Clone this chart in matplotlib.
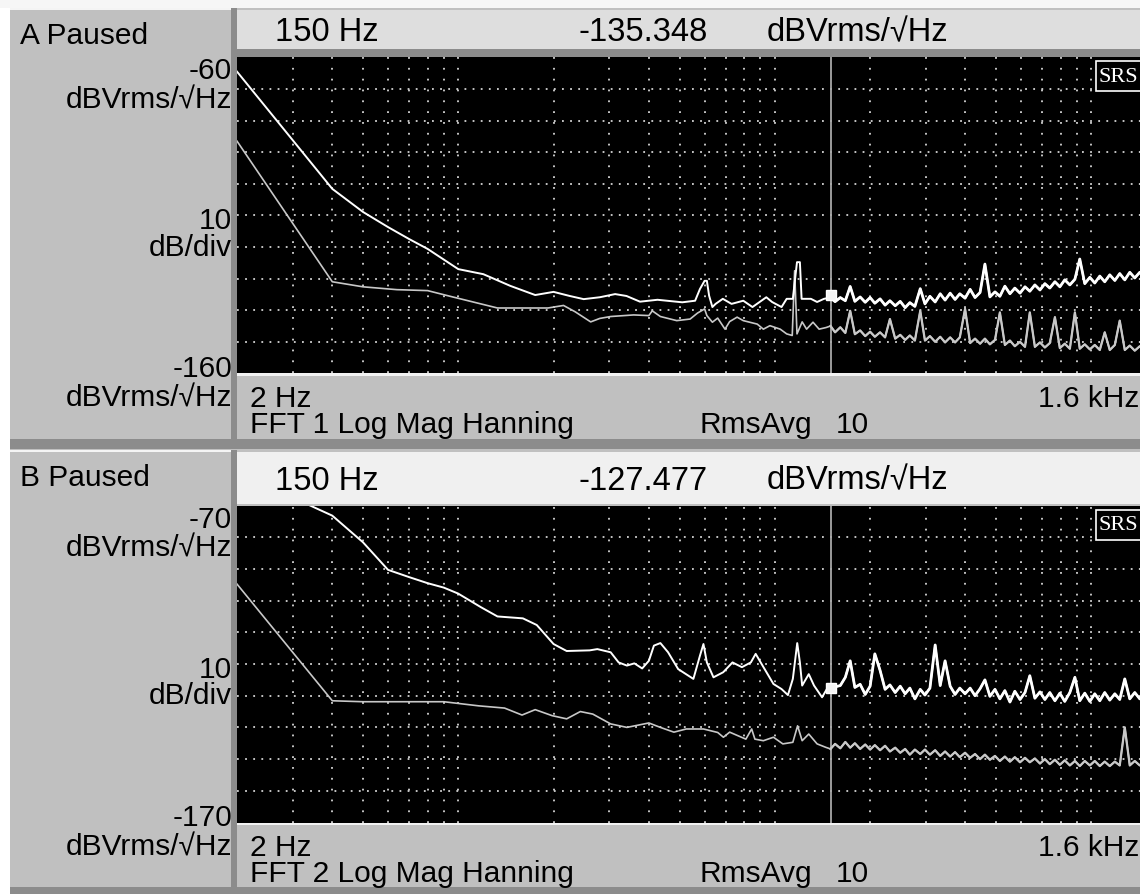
import matplotlib
matplotlib.use('Agg')
import matplotlib.pyplot as plt
from matplotlib.patches import Rectangle

plt.rcParams['font.family'] = ['Liberation Sans', 'DejaVu Sans']

# ---------------- data (Hz, dBVrms/rtHz) ----------------
# smooth low-frequency part of each trace
a_top_f = [2.0, 4.0, 5.0, 6.0, 7.0, 8.0, 10.0, 12.0, 14.6, 17.5, 20.0, 22.5, 24.9, 28.0,
           31.3, 34.0, 37.5, 42.6, 51.0, 56.0, 58.0, 60.0, 61.0, 62.0, 63.5, 65.0, 68.5,
           73.0, 79.5, 85.0, 94.0, 98.0, 105.0, 109.0, 114.0, 117.5, 120.0, 121.5, 130.0,
           136.0, 143.0]
a_top_db = [-64.5, -101.6, -108.9, -113.7, -117.5, -120.6, -127.0, -128.6, -132.3, -135.2,
            -134.2, -135.5, -136.5, -135.9, -134.9, -135.5, -137.3, -136.7, -137.5, -137.0,
            -133.3, -130.7, -130.7, -135.4, -139.0, -138.0, -136.4, -138.0, -137.0, -139.0,
            -135.9, -137.4, -139.0, -136.4, -136.4, -124.8, -124.8, -136.4, -136.4, -137.4,
            -136.4]

a_bot_f = [2.0, 4.0, 5.0, 6.4, 8.0, 9.6, 13.3, 19.2, 21.5, 23.4, 26.2, 28.0, 30.3, 35.8,
           40.0, 41.0, 43.5, 49.0, 54.0, 57.0, 60.0, 61.0, 63.5, 66.0, 69.6, 72.0, 76.0,
           79.5, 88.0, 92.0, 96.5, 104.0, 109.0, 113.5, 115.5, 117.5, 122.0, 126.0, 132.0,
           138.0, 145.0]
a_bot_db = [-86.5, -131.0, -132.6, -133.5, -133.8, -135.8, -139.3, -139.3, -138.5, -140.5,
            -143.7, -142.6, -142.0, -141.5, -141.7, -140.2, -142.0, -143.3, -142.8, -140.9,
            -139.6, -141.7, -143.8, -142.5, -146.0, -143.6, -142.2, -143.3, -144.4, -146.0,
            -144.9, -146.0, -147.5, -148.0, -127.5, -147.5, -143.7, -146.0, -143.8, -146.0,
            -145.5]

b_top_f = [2.0, 3.0, 4.0, 5.0, 6.0, 7.0, 8.0, 9.0, 10.0, 11.8, 13.3, 16.0, 17.7, 20.0,
           22.0, 26.0, 27.5, 30.3, 32.1, 34.1, 36.0, 38.1, 40.0, 41.5, 43.5, 46.0, 49.5,
           55.3, 58.0, 59.5, 61.0, 64.0, 68.7, 73.5, 78.7, 84.0, 87.0, 89.6, 99.0, 105.0,
           110.0, 114.0, 117.7, 120.0, 122.0, 128.0, 133.0, 141.0, 147.0]
b_top_db = [-62.0, -67.5, -73.2, -81.6, -90.3, -92.6, -94.5, -95.9, -97.8, -102.1, -105.0,
            -105.6, -107.7, -113.7, -115.9, -115.7, -115.3, -116.3, -119.5, -120.5, -119.8,
            -121.4, -119.0, -114.2, -113.4, -116.3, -121.6, -124.7, -117.4, -113.7, -119.5,
            -124.2, -122.6, -119.5, -121.0, -119.5, -116.8, -119.0, -126.3, -127.9, -129.8,
            -124.7, -113.4, -119.5, -126.8, -123.2, -126.8, -130.5, -127.4]

b_bot_f = [2.0, 4.0, 5.0, 9.0, 11.6, 14.0, 15.9, 17.5, 19.8, 22.0, 24.3, 26.6, 30.3, 34.1,
           40.0, 43.5, 48.0, 52.5, 59.5, 66.0, 68.8, 72.0, 81.0, 84.5, 86.5, 92.0, 99.0,
           106.0, 114.0, 118.0, 122.0, 128.0, 136.0, 145.0]
b_bot_db = [-94.8, -131.6, -131.9, -131.9, -133.2, -133.9, -136.1, -134.4, -136.3, -137.3,
            -135.0, -135.8, -138.9, -140.0, -138.6, -140.0, -141.5, -140.5, -140.5, -141.6,
            -143.1, -141.5, -143.7, -140.5, -143.7, -144.2, -143.1, -145.2, -144.7, -139.5,
            -144.2, -142.1, -145.2, -146.3]

# noisy high-frequency part, shared frequency points
hi_f = [150, 155, 161, 167, 173, 179, 186, 193, 200, 207, 215, 223, 231, 240, 249, 258,
        267, 277, 288, 298, 309, 321, 333, 345, 358, 371, 384, 399, 414, 429, 445, 461,
        478, 496, 514, 533, 553, 573, 595, 617, 639, 663, 688, 713, 739, 767, 795, 824,
        855, 887, 919, 953, 989, 1025, 1063, 1102, 1143, 1186, 1229, 1275, 1322, 1371,
        1422, 1474, 1529, 1585]
a_top_hi = [-136.0, -137.3, -136.0, -137.0, -132.5, -137.2, -135.8, -137.5, -136.0, -137.8,
            -136.4, -138.4, -137.0, -138.6, -137.2, -139.2, -137.6, -138.8, -133.2, -138.0,
            -135.6, -137.4, -134.8, -136.8, -134.6, -136.6, -134.8, -136.2, -133.4, -136.0,
            -134.4, -125.4, -135.8, -134.2, -135.6, -132.4, -134.8, -133.0, -134.6, -132.6,
            -134.0, -132.0, -133.6, -131.6, -133.0, -131.0, -132.6, -130.4, -132.0, -130.2,
            -123.8, -131.6, -129.6, -131.4, -129.2, -131.0, -128.8, -130.6, -128.4, -130.4,
            -128.0, -129.8, -128.0, -129.6, -127.8, -129.2]
a_bot_hi = [-145.0, -147.0, -145.4, -147.2, -140.2, -147.6, -146.4, -148.2, -146.8, -148.4,
            -147.0, -148.6, -142.8, -149.0, -147.8, -149.4, -148.0, -149.6, -140.2, -149.6,
            -148.2, -150.0, -148.4, -150.2, -148.6, -150.2, -148.6, -139.6, -150.4, -149.0,
            -150.6, -149.0, -150.8, -149.4, -140.7, -151.0, -149.6, -151.4, -150.0, -151.6,
            -140.7, -151.6, -150.2, -151.8, -150.4, -142.2, -152.0, -150.6, -152.2, -140.7,
            -152.2, -150.8, -152.4, -151.0, -152.6, -147.0, -152.6, -151.0, -143.3, -152.6,
            -151.2, -152.8, -151.4, -152.8, -151.4, -152.6]
b_top_hi = [-128.4, -127.2, -126.8, -124.2, -119.0, -127.4, -126.4, -129.6, -127.0, -116.8,
            -122.0, -128.0, -126.6, -129.0, -127.0, -129.4, -127.6, -131.0, -128.0, -129.8,
            -127.6, -114.0, -126.8, -119.0, -127.0, -129.6, -127.6, -129.4, -127.6, -130.0,
            -127.8, -125.0, -130.2, -128.0, -131.0, -128.4, -132.0, -128.6, -131.2, -129.0,
            -123.7, -130.8, -128.8, -131.2, -129.0, -131.6, -129.2, -131.8, -129.0, -124.2,
            -131.6, -129.2, -131.8, -129.4, -131.6, -129.0, -131.4, -129.4, -131.2, -124.7,
            -131.0, -129.0, -131.0, -128.8, -130.8, -129.0]
b_bot_hi = [-146.8, -145.2, -146.6, -144.6, -146.4, -145.0, -146.8, -145.4, -147.0, -145.6,
            -147.2, -145.8, -147.6, -146.4, -148.0, -146.8, -148.6, -147.0, -148.4, -147.0,
            -148.6, -147.2, -149.0, -147.6, -149.2, -147.8, -149.4, -148.0, -149.6, -148.4,
            -150.0, -148.6, -150.2, -149.0, -150.6, -149.2, -150.8, -149.4, -151.0, -149.6,
            -151.0, -149.8, -151.4, -150.0, -151.6, -150.2, -151.8, -150.4, -152.0, -150.6,
            -152.2, -150.6, -152.0, -150.6, -152.2, -150.8, -152.2, -150.8, -152.0, -140.0,
            -152.0, -150.6, -152.0, -150.6, -151.8, -150.6]

marker_f = 150
marker_db = [-135.348, -127.477]
ref_db = [-60, -70]          # top of each display
grid_f = [3, 4, 5, 6, 7, 8, 9, 10, 20, 30, 40, 50, 60, 70, 80, 90,
          100, 200, 300, 400, 500, 600, 700, 800, 900, 1000]

# ---------------- figure ----------------
W, H = 1140, 895
fig = plt.figure(figsize=(W / 100, H / 100), dpi=100)
fig.patch.set_facecolor('white')

bg = fig.add_axes([0, 0, 1, 1], zorder=0)
bg.set_xlim(0, W)
bg.set_ylim(H, 0)
bg.axis('off')

ov = fig.add_axes([0, 0, 1, 1], zorder=5)
ov.set_xlim(0, W)
ov.set_ylim(H, 0)
ov.axis('off')
ov.patch.set_alpha(0)

GRAY = '#c0c0c0'
DITHER = '#8c8c8c'
FS = 21.5
FS_HEAD = 23.5


def box(x0, y0, x1, y1, color, ax=bg):
    ax.add_patch(Rectangle((x0, y0), x1 - x0, y1 - y0, facecolor=color,
                           edgecolor='none'))


def txt(x, y, s, ha='left', size=FS, ax=ov):
    ax.text(x, y, s, ha=ha, va='center', fontsize=size, color='black')


# frame pieces
box(0, 0, W, 9, '#f6f6f6')
box(10, 9, W, 440, GRAY)
box(10, 440, W, 450, DITHER)
box(10, 450, W, 888, GRAY)
box(10, 888, W, H, DITHER)

panels = [
    # (letter, head y0, head y1, head color, strip, plot y0, plot y1, bar y0, bar y1)
    ('A', 11, 50, '#dedede', (50, 58), 58.4, 374.4, 377, 440),
    ('B', 453, 505, '#f0f0f0', None, 506.5, 823.5, 826, 888),
]

traces = [
    (a_top_f, a_top_db, a_top_hi, a_bot_f, a_bot_db, a_bot_hi),
    (b_top_f, b_top_db, b_top_hi, b_bot_f, b_bot_db, b_bot_hi),
]

for i, (name, hy0, hy1, hcol, strip, py0, py1, by0, by1) in enumerate(panels):
    # header and bevels
    box(237, hy0, W, hy1, hcol)
    box(10, hy0 - 2, 231, hy0, '#f4f4f4')
    box(231, hy0 - 2, 237, by1, DITHER)
    if strip:
        box(237, strip[0], W, strip[1], DITHER)
    box(237, py1, W, by0, '#f2f2f2')

    # plot area
    ax = fig.add_axes([237 / W, (H - py1) / H, (1156 - 237) / W, (py1 - py0) / H], zorder=2)
    ax.set_facecolor('black')
    ax.set_xscale('log')
    ax.set_xlim(2, 1600)
    top = ref_db[i]
    ax.set_ylim(top - 100, top)
    ax.tick_params(which='both', length=0, labelbottom=False, labelleft=False)
    for sp in ax.spines.values():
        sp.set_visible(False)
    for f in grid_f:
        ax.axvline(f, color='#d4d4d4', lw=1.3, ls=(0, (1, 5)))
    for k in range(1, 10):
        ax.axhline(top - 10 * k, color='#d4d4d4', lw=1.3, ls=(0, (1, 3.5)))
    ax.axvline(marker_f, color='#a8a8a8', lw=1.3)

    tf, td, th, lf, ld, lh = traces[i]
    ax.plot(lf + hi_f, ld + lh, color='#c8c8c8', lw=1.2)
    ax.plot(hi_f, lh, color='#c8c8c8', lw=1.6)
    ax.plot(tf + hi_f, td + th, color='white', lw=1.4)
    ax.plot(hi_f, th, color='white', lw=2.0)
    ax.plot(marker_f, marker_db[i], 's', ms=7, mfc='#f4f4f4', mec='white')

    # SRS logo
    ly = py0 + 4
    ov.add_patch(Rectangle((1096, ly), 60, 30, facecolor='black', edgecolor='white', lw=1.2))
    ov.text(1099, ly + 15, 'SRS', ha='left', va='center', fontsize=16, color='white',
            family='Liberation Serif')

    # labels
    txt(20, hy0 + 25, f'{name} Paused')
    txt(232, py0 + 13, f'{ref_db[i]}', ha='right')
    txt(232, py0 + 42, 'dBVrms/√Hz', ha='right')
    txt(232, py0 + 163, '10', ha='right')
    txt(232, py0 + 190, 'dB/div', ha='right')
    txt(232, py1 - 5, f'{ref_db[i] - 100}', ha='right')
    txt(232, py1 + 24, 'dBVrms/√Hz', ha='right')

    hc = (hy0 + hy1) / 2 + 2
    txt(275, hc, '150 Hz', size=FS_HEAD)
    txt(578, hc, f'{marker_db[i]:.3f}', size=FS_HEAD)
    txt(767, hc, 'dBVrms/√Hz', size=FS_HEAD)

    txt(250, by0 + 22, '2 Hz')
    txt(1139, by0 + 22, '1.6 kHz', ha='right')
    txt(250, by0 + 48, f'FFT {i + 1} Log Mag Hanning')
    txt(700, by0 + 48, 'RmsAvg')
    txt(836, by0 + 48, '10')

fig.savefig('out.png', dpi=100, facecolor=fig.get_facecolor())
